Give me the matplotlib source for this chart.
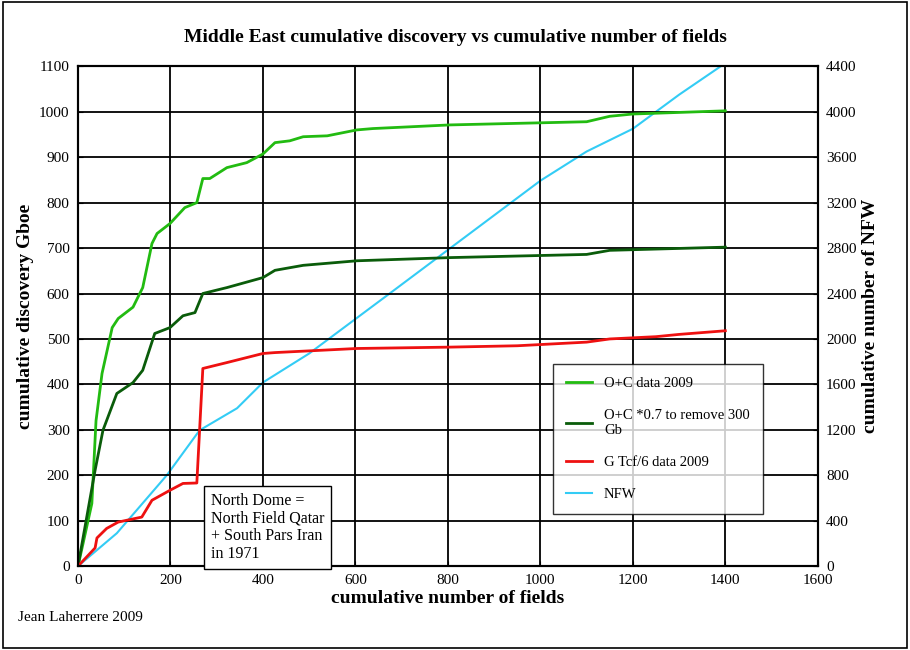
import matplotlib
matplotlib.use("Agg")
import matplotlib.pyplot as plt
from matplotlib.patches import Rectangle

plt.rcParams["font.family"] = "Liberation Serif"

oc_x = [0, 11, 30, 39, 52, 74, 87, 119, 140, 160, 171, 199, 231, 257, 270, 285, 322, 365, 400, 426, 458, 487, 539, 603, 638, 804, 1100, 1150, 1200, 1400]
oc_y = [0, 50, 138, 320, 424, 525, 545, 570, 613, 710, 732, 754, 789, 800, 853, 853, 877, 888, 907, 932, 936, 945, 947, 960, 963, 971, 978, 990, 995, 1002]

oc7_x = [0, 37, 54, 84, 119, 140, 166, 199, 227, 253, 270, 322, 400, 426, 487, 603, 804, 1100, 1150, 1400]
oc7_y = [0, 211, 299, 380, 404, 431, 512, 525, 551, 558, 600, 613, 635, 651, 662, 672, 679, 686, 695, 702]

g_x = [0, 37, 41, 62, 87, 138, 160, 199, 227, 257, 270, 322, 400, 426, 603, 804, 950, 1100, 1150, 1250, 1300, 1400]
g_y = [0, 40, 62, 83, 97, 108, 145, 167, 182, 183, 435, 448, 468, 470, 479, 482, 485, 493, 500, 505, 510, 518]

nfw_x = [0, 84, 192, 263, 344, 400, 500, 674, 804, 1000, 1100, 1200, 1250, 1300, 1390]
nfw_y = [0, 290, 800, 1196, 1390, 1617, 1872, 2400, 2796, 3393, 3650, 3850, 4000, 4150, 4400]

fig = plt.figure(figsize=(9.1, 6.5), dpi=100)
fig.patches.append(Rectangle((0.003, 0.003), 0.994, 0.994, transform=fig.transFigure,
                             fill=False, edgecolor="black", lw=1.2))
ax = fig.add_axes([0.0857, 0.129, 0.813, 0.769])
ax2 = ax.twinx()

l1, = ax.plot(oc_x, oc_y, color="#22bb11", lw=2, label="O+C data 2009")
l2, = ax.plot(oc7_x, oc7_y, color="#0a5c0a", lw=2, label="O+C *0.7 to remove 300\nGb")
l3, = ax.plot(g_x, g_y, color="#ee1111", lw=2, label="G Tcf/6 data 2009")
l4, = ax2.plot(nfw_x, nfw_y, color="#33ccf5", lw=1.5, label="NFW")

ax.set_xlim(0, 1600)
ax.set_ylim(0, 1100)
ax2.set_ylim(0, 4400)
ax.set_xticks(range(0, 1601, 200))
ax.set_yticks(range(0, 1101, 100))
ax2.set_yticks(range(0, 4401, 400))
ax.grid(True, color="black", lw=1.3)
ax.tick_params(axis="x", pad=6)
for a in (ax, ax2):
    a.tick_params(labelsize=11, direction="in")
    for s in a.spines.values():
        s.set_linewidth(1.5)
ax2.tick_params(axis="y", pad=6)
ax.tick_params(axis="y", pad=6)

ax.set_xlabel("cumulative number of fields", fontsize=14, fontweight="bold", labelpad=2)
ax.set_ylabel("cumulative discovery Gboe", fontsize=14, fontweight="bold")
ax2.set_ylabel("cumulative number of NFW", fontsize=14, fontweight="bold")
fig.text(0.5, 0.935, "Middle East cumulative discovery vs cumulative number of fields",
         ha="center", fontsize=14, fontweight="bold")
fig.text(0.02, 0.045, "Jean Laherrere 2009", fontsize=11)

leg = ax.legend(handles=[l1, l2, l3, l4], loc="upper left", bbox_to_anchor=(0.632, 0.42),
                fontsize=10.5, frameon=True, fancybox=False, edgecolor="black",
                handlelength=1.8, labelspacing=1.3, borderpad=0.9)
leg.get_frame().set_linewidth(1)
ax2.set_zorder(ax.get_zorder() - 1)
ax.patch.set_visible(False)

ax.text(287, 18, "North Dome =\nNorth Field Qatar\n+ South Pars Iran\nin 1971", fontsize=11.5,
        linespacing=1.15,
        bbox=dict(facecolor="white", edgecolor="black", pad=5), zorder=5)

fig.savefig("out.png", dpi=100)
